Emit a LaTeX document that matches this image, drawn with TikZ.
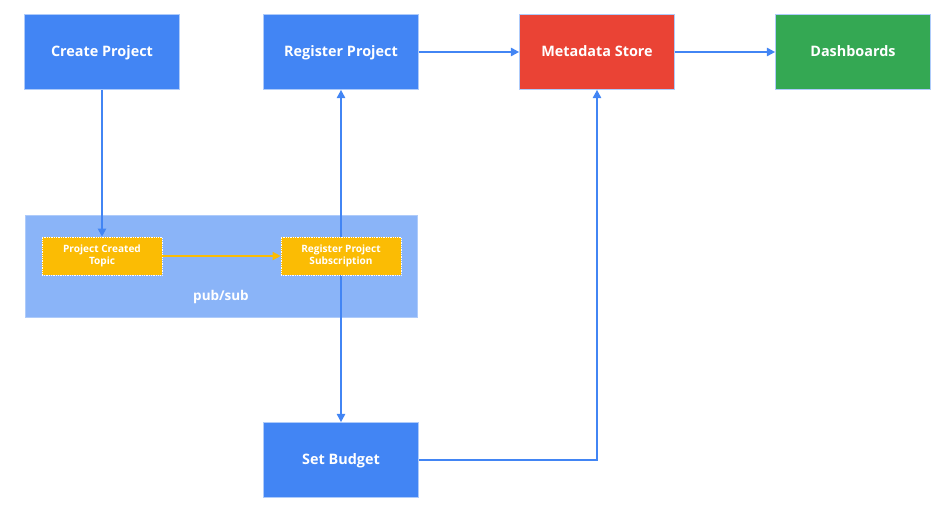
\documentclass[tikz,border=0pt]{standalone}
\usepackage{fontspec}
\setmainfont{Open Sans}
\usetikzlibrary{positioning,calc,arrows.meta}
\definecolor{gblue}{HTML}{4285F4}
\definecolor{gred}{HTML}{EA4335}
\definecolor{ggreen}{HTML}{34A853}
\definecolor{gyellow}{HTML}{FBBC04}
\definecolor{glight}{HTML}{8AB4F8}
\definecolor{gframe}{HTML}{AECBFA}

\begin{document}
\begin{tikzpicture}[
    x=0.03cm, y=-0.03cm,
    step_box/.style={rectangle, draw=gframe, line width=0.6pt, text=white, font=\bfseries\fontsize{12.3}{14}\selectfont, text height=1.7ex, text depth=0.3ex, minimum width=4.65cm, minimum height=2.25cm},
    topic/.style={rectangle, fill=gyellow, draw=white, densely dotted, line width=0.5pt, text=white, align=center, font=\bfseries\fontsize{8.6}{10}\selectfont, minimum width=3.6cm, minimum height=1.14cm, inner sep=1pt},
    group/.style={rectangle, fill=glight, draw=gframe, line width=0.5pt, minimum width=11.76cm, minimum height=3.06cm},
    flow/.style={draw=gblue, line width=1.6pt},
    ]
    \useasboundingbox (0,0) rectangle (951,507);

    % pub/sub area
    \node[group] (pubsub) at (221,266) {};
    \node[text=white, font=\bfseries\fontsize{11.5}{13}\selectfont] (pubsub_lbl) at (221,297) {pub/sub};

    % top row
    \node[step_box, fill=gblue]  (create)   at (102,52) {Create Project};
    \node[step_box, fill=gblue]  (register) at (341,52) {Register Project};
    \node[step_box, fill=gred]   (meta)     at (597,52) {Metadata Store};
    \node[step_box, fill=ggreen] (dash)     at (853,52) {Dashboards};

    % bottom
    \node[step_box, fill=gblue]  (budget)   at (341,460) {Set Budget};

    % register <-> budget, runs under the subscription box
    \draw[flow, {Triangle[length=7pt,width=7pt]}-{Triangle[length=7pt,width=7pt]}] (register.south) to (budget.north);

    % topics
    \node[topic] (created_topic) at (102,256) {Project Created\\Topic};
    \node[topic] (register_sub)  at (341,256) {Register Project\\Subscription};

    % arrows
    \draw[flow, -{Triangle[length=7pt,width=7pt]}] (create.south) to (created_topic.north);
    \draw[draw=gyellow, line width=1.2pt, -{Triangle[length=7pt,width=7pt]}] (created_topic.east) to (register_sub.west);
    \draw[flow, -{Triangle[length=7pt,width=7pt]}] (register.east) to (meta.west);
    \draw[flow, -{Triangle[length=7pt,width=7pt]}] (meta.east) to (dash.west);
    \draw[flow, -{Triangle[length=7pt,width=7pt]}] (budget.east) -| (meta.south);

\end{tikzpicture}
\end{document}
